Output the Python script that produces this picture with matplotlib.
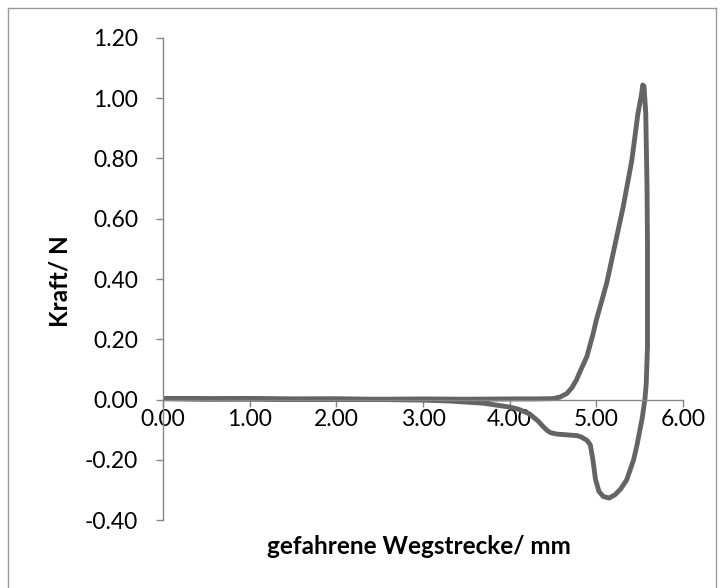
import matplotlib
matplotlib.use('Agg')
import matplotlib.pyplot as plt
import matplotlib.lines as mlines

plt.rcParams['font.family'] = ['Lato', 'DejaVu Sans']

weg = [0.00, 0.50, 1.00, 1.50, 2.00, 2.50, 3.00, 3.50, 4.00, 4.30, 4.50,
       4.58, 4.66, 4.72, 4.77, 4.82, 4.89, 4.96, 5.00, 5.06, 5.12, 5.21, 5.31, 5.41,
       5.48, 5.52, 5.535, 5.55, 5.57, 5.585, 5.59, 5.59, 5.575, 5.56,
       5.53, 5.47, 5.43, 5.35, 5.28, 5.22, 5.15, 5.08, 5.03, 4.99, 4.96,
       4.93, 4.89, 4.83, 4.78, 4.65, 4.55, 4.47, 4.43, 4.38, 4.33, 4.23,
       4.10, 4.00, 3.69, 3.30, 3.00, 2.50, 2.00, 1.00, 0.00]
kraft = [0.003, 0.001, 0.002, 0.001, 0.002, 0.001, 0.002, 0.001, 0.002, 0.002, 0.003,
         0.008, 0.020, 0.040, 0.065, 0.098, 0.142, 0.215, 0.264, 0.325, 0.387, 0.507, 0.640, 0.795,
         0.950, 1.010, 1.044, 1.040, 0.950, 0.700, 0.507, 0.175, 0.050, 0.000,
         -0.060, -0.150, -0.200, -0.267, -0.297, -0.315, -0.327, -0.322, -0.305, -0.265, -0.200,
         -0.150, -0.135, -0.125, -0.120, -0.117, -0.115, -0.110, -0.102, -0.088, -0.072, -0.048,
         -0.032, -0.025, -0.012, -0.005, -0.002, 0.000, 0.001, 0.002, 0.003]

x_ticks = [0, 1, 2, 3, 4, 5, 6]
y_ticks = [-0.4, -0.2, 0.0, 0.2, 0.4, 0.6, 0.8, 1.0, 1.2]

fig = plt.figure(figsize=(7.24, 5.88), dpi=100, facecolor='white')
ax = fig.add_axes([0.2251, 0.1156, 0.7183, 0.8198])

ax.plot(weg, kraft, color='#646464', linewidth=3.5, solid_capstyle='round',
        solid_joinstyle='round')

ax.set_xlim(0, 6)
ax.set_ylim(-0.4, 1.2)
ax.set_xticks(x_ticks)
ax.set_yticks(y_ticks)
ax.set_xticklabels(['%.2f' % v for v in x_ticks])
ax.set_yticklabels(['%.2f' % v for v in y_ticks])

axis_grey = '#868686'
for s in ['top', 'right']:
    ax.spines[s].set_visible(False)
ax.spines['bottom'].set_position(('data', 0))
ax.spines['bottom'].set_color(axis_grey)
ax.spines['left'].set_color(axis_grey)
ax.spines['bottom'].set_linewidth(1.0)
ax.spines['left'].set_linewidth(1.0)
ax.tick_params(axis='both', direction='out', length=5, width=1.0, color=axis_grey,
               labelsize=16.5, labelcolor='black')
ax.tick_params(axis='x', pad=2)
ax.tick_params(axis='y', pad=13)

fig.text(60 / 724, 1 - 281 / 588, 'Kraft/ N', rotation=90, ha='center', va='center',
         fontsize=17.5, fontweight='bold')
fig.text(419 / 724, 1 - 546 / 588, 'gefahrene Wegstrecke/ mm', ha='center', va='center',
         fontsize=17.5, fontweight='bold')

# Rahmen um das Diagramm
frame_col = '#9a9a9a'
x0, x1 = 8 / 724, 716 / 724
y0, y1 = 0.0, 1 - 8 / 588
for xs, ys in [([x0, x1], [y1, y1]), ([x0, x0], [y0, y1]), ([x1, x1], [y0, y1])]:
    fig.add_artist(mlines.Line2D(xs, ys, color=frame_col, linewidth=1.0,
                                 transform=fig.transFigure))

fig.savefig('out.png', dpi=100, facecolor='white')
